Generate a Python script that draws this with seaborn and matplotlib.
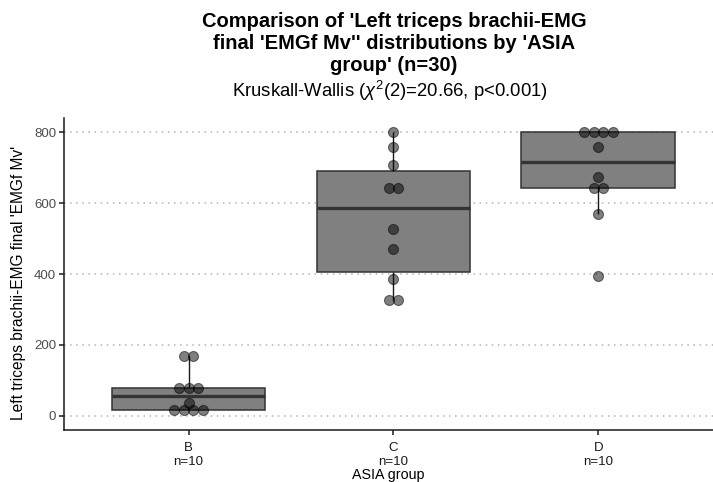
import numpy as np
import pandas as pd
import matplotlib
matplotlib.use("Agg")
import matplotlib.pyplot as plt
import seaborn as sns

# ---- data ----
groups = ["B", "C", "D"]
values_B = [170, 170, 78, 78, 78, 35, 16, 16, 16, 16]
values_C = [800, 760, 707, 643, 643, 528, 470, 386, 327, 327]
values_D = [800, 800, 800, 800, 758, 675, 642, 642, 569, 395]
yticks = [0, 200, 400, 600, 800]

title = "Comparison of 'Left triceps brachii-EMG\nfinal 'EMGf Mv'' distributions by 'ASIA\ngroup' (n=30)"
subtitle = "Kruskall-Wallis ($\\chi^2$(2)=20.66, p<0.001)"
ylabel = "Left triceps brachii-EMG final 'EMGf Mv'"
xlabel = "ASIA group"

df = pd.DataFrame({
    "group": ["B"] * len(values_B) + ["C"] * len(values_C) + ["D"] * len(values_D),
    "value": values_B + values_C + values_D,
})

sns.set_theme(style="white")
plt.rcParams["font.family"] = ["Liberation Sans", "DejaVu Sans"]
plt.rcParams["mathtext.fontset"] = "custom"
plt.rcParams["mathtext.rm"] = "Liberation Sans"
plt.rcParams["mathtext.it"] = "Liberation Sans:italic"
plt.rcParams["text.color"] = "black"
plt.rcParams["axes.labelcolor"] = "black"

W, H = 713, 482
fig = plt.figure(figsize=(W / 100, H / 100), dpi=100)
left_px, right_px, top_px, bot_px = 63.7, 713, 117.8, 430
ax = fig.add_axes([left_px / W, 1 - bot_px / H, (right_px - left_px) / W, (bot_px - top_px) / H])

sns.boxplot(data=df, x="group", y="value", order=groups, width=0.75,
            color="#808080", linecolor="#333333", linewidth=1.1,
            showfliers=False, saturation=1, whis=1.5,
            medianprops=dict(linewidth=2.4, color="#333333"),
            whiskerprops=dict(color="#1a1a1a", linewidth=1.0),
            capprops=dict(linewidth=0), ax=ax)

# dot-plot style stacking: equal values are spread horizontally, centred
spacing = 0.0464
xs, ys = [], []
for i, g in enumerate(groups):
    vals = df.loc[df.group == g, "value"].to_numpy()
    for v in np.unique(vals):
        k = int((vals == v).sum())
        offs = (np.arange(k) - (k - 1) / 2) * spacing
        xs.extend(i + offs)
        ys.extend([v] * k)
sns.scatterplot(x=xs, y=ys, s=52, color="black", alpha=0.5, edgecolor="black",
                linewidth=0.8, ax=ax, zorder=5, legend=False)

ax.set_xlim(-0.61, 2.56)
ax.set_ylim(-40, 841)
ax.set_yticks(yticks)
ax.set_yticklabels([str(t) for t in yticks], fontsize=9.5, color="#4d4d4d")
ax.set_xticks(range(len(groups)))
counts = df.groupby("group")["value"].size()
ax.set_xticklabels([f"{g}\nn={counts[g]}" for g in groups], fontsize=9.5,
                   color="#1a1a1a", linespacing=1.2)
ax.yaxis.grid(True, linestyle=(0, (1, 3)), color="#b3b3b3", linewidth=1.1)
ax.xaxis.grid(False)
ax.set_axisbelow(True)
for s in ["top", "right"]:
    ax.spines[s].set_visible(False)
for s in ["left", "bottom"]:
    ax.spines[s].set_color("#1a1a1a")
    ax.spines[s].set_linewidth(1.1)
ax.tick_params(axis="both", which="major", direction="out", length=3.5,
               width=1.1, color="#1a1a1a", bottom=True, left=True, pad=2)
ax.tick_params(axis="x", pad=5)
ax.set_xlabel(xlabel, fontsize=10.3, color="black", va="center")
ax.xaxis.set_label_coords(0.5, -(474.5 - bot_px) / (bot_px - top_px))
ax.set_ylabel(ylabel, fontsize=11.2, color="black")
ax.yaxis.set_label_coords(-0.058, 0.47)

fig.text(394 / W, 1 - 12 / H, title, ha="center", va="top", fontsize=14.5,
         fontweight="bold", linespacing=1.2, color="black")
fig.text(390 / W, 1 - 91 / H, subtitle, ha="center", va="center", fontsize=13.3,
         color="black")

fig.savefig("out.png", dpi=100)
